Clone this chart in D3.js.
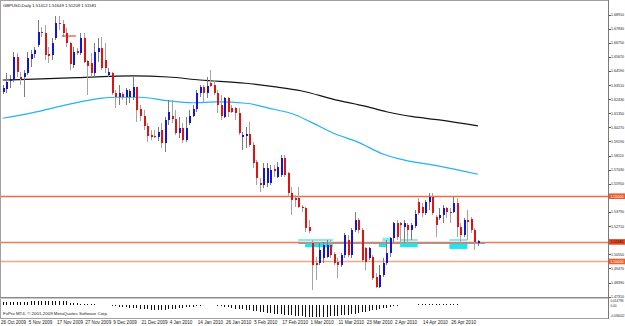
<!DOCTYPE html>
<html><head><meta charset="utf-8">
<script src="https://cdn.jsdelivr.net/npm/d3@7"></script>
<style>html,body{margin:0;padding:0;background:#fff;overflow:hidden}svg{display:block}</style>
</head><body><svg id="c" width="625" height="326"></svg>
<script>
// ---- data (GBPUSD Daily, one entry per bar) ----
const opens = [1.6301,1.6318,1.6385,1.6390,1.6569,1.6415,1.6415,1.6441,1.6551,1.6589,
1.6658,1.6760,1.6747,1.6586,1.6581,1.6709,1.6824,1.6816,1.6752,1.6671,
1.6505,1.6612,1.6594,1.6709,1.6535,1.6518,1.6441,1.6607,1.6632,1.6543,
1.6428,1.6441,1.6288,1.6257,1.6283,1.6257,1.6262,1.6257,1.6334,1.6165,
1.6114,1.6038,1.5969,1.5961,1.5956,1.6007,1.5905,1.6084,1.6114,1.6089,
1.5986,1.6020,1.5930,1.6058,1.6114,1.6165,1.6288,1.6339,1.6288,1.6369,
1.6352,1.6293,1.6198,1.6109,1.6249,1.6173,1.6173,1.6140,1.5951,1.5961,
1.5976,1.5892,1.5764,1.5598,1.5586,1.5598,1.5598,1.5706,1.5649,1.5662,
1.5790,1.5675,1.5527,1.5484,1.5484,1.5420,1.5407,1.5261,1.5139,1.4986,
1.4986,1.5024,1.5037,1.5126,1.5057,1.4998,1.4973,1.5050,1.5164,1.5050,
1.5241,1.5318,1.5241,1.5101,1.5024,1.5032,1.4884,1.4807,1.4896,1.4986,
1.5062,1.5177,1.5292,1.5292,1.5267,1.5279,1.5241,1.5272,1.5458,1.5420,
1.5369,1.5458,1.5496,1.5343,1.5330,1.5356,1.5407,1.5381,1.5381,1.5450,
1.5267,1.5203,1.5318,1.5323,1.5241,1.51412];
const highs = [1.6352,1.6441,1.6428,1.6607,1.6594,1.6454,1.6466,1.6607,1.6620,1.6645,
1.6849,1.6798,1.6811,1.6645,1.6709,1.6880,1.6880,1.6849,1.6786,1.6683,
1.6645,1.6632,1.6747,1.6747,1.6543,1.6594,1.6671,1.6709,1.6722,1.6671,
1.6479,1.6454,1.6313,1.6352,1.6301,1.6326,1.6318,1.6415,1.6339,1.6198,
1.6160,1.6058,1.6007,1.6007,1.6032,1.6058,1.6109,1.6237,1.6237,1.6160,
1.6109,1.6058,1.6109,1.6160,1.6198,1.6313,1.6352,1.6352,1.6415,1.6466,
1.6390,1.6313,1.6275,1.6262,1.6262,1.6198,1.6186,1.6173,1.5994,1.6032,
1.6071,1.5918,1.5777,1.5637,1.5752,1.5752,1.5739,1.5739,1.5764,1.5815,
1.5815,1.5688,1.5573,1.5509,1.5573,1.5432,1.5420,1.5318,1.5164,1.5037,
1.5139,1.5152,1.5164,1.5164,1.5075,1.5024,1.5062,1.5215,1.5203,1.5254,
1.5381,1.5330,1.5254,1.5113,1.5113,1.5050,1.4909,1.4973,1.5024,1.5164,
1.5190,1.5305,1.5318,1.5305,1.5318,1.5292,1.5292,1.5394,1.5484,1.5445,
1.5471,1.5522,1.5522,1.5356,1.5407,1.5432,1.5420,1.5407,1.5496,1.5484,
1.5292,1.5330,1.5394,1.5343,1.5254,1.51649];
const lows = [1.6283,1.6288,1.6326,1.6377,1.6415,1.6352,1.6262,1.6428,1.6492,1.6556,
1.6645,1.6722,1.6543,1.6518,1.6543,1.6696,1.6773,1.6722,1.6645,1.6466,
1.6479,1.6581,1.6581,1.6518,1.6275,1.6415,1.6415,1.6530,1.6466,1.6441,
1.6415,1.6275,1.6173,1.6198,1.6237,1.6198,1.6211,1.6237,1.6071,1.6078,
1.6007,1.5918,1.5930,1.5943,1.5925,1.5867,1.5841,1.6045,1.6058,1.5969,
1.5943,1.5905,1.5918,1.6045,1.6109,1.6147,1.6262,1.6224,1.6249,1.6339,
1.6275,1.6135,1.6084,1.6096,1.6109,1.6135,1.6084,1.5969,1.5854,1.5867,
1.5879,1.5713,1.5586,1.5535,1.5560,1.5573,1.5586,1.5649,1.5637,1.5649,
1.5649,1.5496,1.5356,1.5420,1.5407,1.5381,1.5228,1.5215,1.4781,1.4858,
1.4973,1.4986,1.5024,1.5024,1.4973,1.4871,1.4960,1.5024,1.5037,1.5024,
1.5228,1.5215,1.4998,1.4935,1.5011,1.4858,1.4794,1.4794,1.4884,1.4973,
1.5037,1.5152,1.5164,1.5139,1.5139,1.5139,1.5164,1.5254,1.5356,1.5343,
1.5356,1.5394,1.5356,1.5190,1.5318,1.5292,1.5330,1.5292,1.5369,1.5190,
1.5126,1.5190,1.5164,1.5215,1.5088,1.51209];
const closes = [1.6326,1.6377,1.6398,1.6569,1.6454,1.6400,1.6446,1.6556,1.6589,1.6620,
1.6760,1.6747,1.6581,1.6576,1.6671,1.6824,1.6816,1.6747,1.6671,1.6510,
1.6607,1.6594,1.6709,1.6530,1.6500,1.6441,1.6607,1.6632,1.6479,1.6479,
1.6449,1.6288,1.6257,1.6288,1.6262,1.6313,1.6308,1.6334,1.6160,1.6114,
1.6038,1.5961,1.5951,1.5951,1.5994,1.5905,1.6084,1.6147,1.6089,1.5986,
1.6020,1.5930,1.6025,1.6114,1.6165,1.6288,1.6339,1.6288,1.6344,1.6344,
1.6293,1.6198,1.6114,1.6249,1.6147,1.6147,1.6140,1.5981,1.5969,1.5976,
1.5892,1.5752,1.5637,1.5586,1.5713,1.5713,1.5701,1.5695,1.5726,1.5790,
1.5662,1.5522,1.5471,1.5471,1.5420,1.5407,1.5254,1.5236,1.4973,1.4973,
1.5088,1.5126,1.5126,1.5050,1.4986,1.4973,1.5050,1.5203,1.5050,1.5241,
1.5318,1.5241,1.5011,1.4998,1.5101,1.4871,1.4807,1.4896,1.4986,1.5067,
1.5177,1.5292,1.5190,1.5279,1.5292,1.5241,1.5279,1.5364,1.5369,1.5369,
1.5458,1.5496,1.5369,1.5279,1.5356,1.5407,1.5381,1.5374,1.5450,1.5267,
1.5203,1.5318,1.5305,1.5241,1.5147,1.51581];

// oscillator histogram (lower panel), one value per bar
const osc = [0.009,0.010,0.010,0.011,0.011,0.010,0.010,0.011,0.012,0.012,0.012,0.013,0.013,0.012,0.012,0.013,0.0148,0.014,0.013,
0.008,0.007,0.006,0.005,0.005,0.004,0.003,0.003,0.002,0.002,0.001,0.001,
-0.002,-0.003,-0.004,-0.005,-0.006,-0.007,-0.008,-0.009,-0.010,-0.011,-0.012,-0.013,-0.013,-0.014,-0.014,-0.013,-0.012,-0.011,-0.010,-0.009,-0.008,-0.006,-0.005,-0.004,-0.002,
-0.001,0.001,0.001,0.002,0.001,-0.001,-0.002,
-0.004,-0.006,-0.008,-0.010,-0.011,-0.012,-0.014,-0.015,-0.017,-0.018,-0.019,-0.021,-0.022,-0.023,-0.025,-0.026,-0.027,-0.028,-0.029,-0.030,-0.031,-0.032,-0.033,-0.034,-0.034,
-0.035,-0.035,-0.035,-0.034,-0.034,-0.033,-0.032,-0.031,-0.030,-0.029,-0.028,-0.026,-0.025,-0.023,-0.021,-0.019,-0.017,-0.015,-0.013,-0.011,-0.009,-0.007,-0.005,-0.003,-0.001,
0.001,0.001,0.002,0.002,0.002,0.003,0.003,0.003,0.004,0.004,0.004,0.004,0.004,0.003,0.003,0.003,0.003,0.002,0.002,0.002,0.002,0.001,0.001];

// moving averages: [bar index, price]
const maSlow = [[0,1.6390],[11,1.6398],[22,1.6409],[30.5,1.6418],[37,1.6421],[47,1.6413],[56,1.6390],[69,1.6365],[77,1.6339],[85,1.6306],[94,1.6242],[103.5,1.6186],[109,1.6147],[116.5,1.6109],[124,1.6084],[135,1.6038]];
const maFast = [[0,1.6097],[8.6,1.6140],[18,1.6199],[27.6,1.6250],[32.4,1.6258],[39,1.6258],[46.6,1.6232],[54,1.6216],[61,1.6222],[69,1.6212],[77,1.6166],[82.5,1.6130],[87.3,1.6071],[94,1.5982],[100.6,1.5918],[108,1.5823],[114.8,1.5772],[124,1.5731],[135,1.5668]];

// horizontal levels
const levels = [1.5500, 1.5150, 1.5000];
const levelLabels = ["1.55000", "1.51581", "1.50000"];
const grayLevel = {from: 84, to: 137, price: 1.5139};
const redSegment = {from: 16.8, to: 20.8, price: 1.6727};
// cyan zones: [barFrom, barTo, priceTop, priceBottom]
const zones = [[83.9,93.8,1.5172,1.5157],[85.9,93.8,1.5139,1.5109],[107.9,110,1.5182,1.5152],[106.9,108.9,1.5134,1.5111],
[112.9,117.9,1.5172,1.5157],[112.9,117.9,1.5139,1.5109],[126.9,132,1.5172,1.5157],[126.9,132,1.5134,1.5096]];

const priceTicks = [1.68910,1.67830,1.66750,1.65670,1.64590,1.63510,1.62430,1.61350,1.60270,1.59190,1.58110,1.57030,1.55950,1.54870,1.53790,1.52710,1.51630,1.50550,1.49470,1.48390,1.47310];
const dateLabels = ["26 Oct 2009","5 Nov 2009","17 Nov 2009","27 Nov 2009","9 Dec 2009","21 Dec 2009","4 Jan 2010","14 Jan 2010","26 Jan 2010","5 Feb 2010","17 Feb 2010","1 Mar 2010","11 Mar 2010","23 Mar 2010","2 Apr 2010","14 Apr 2010","26 Apr 2010"];
const dateBars = [0,8,16,24,32,40,48,56,64,72,80,88,96,104,112,120,128];
const oscLabels = [["0.014796",0.0148],["0.00",0],["-0.036002",-0.036]];
const title = "GBPUSD,Daily  1.51412 1.51649 1.51209 1.51581";
const copyright = "FxPro MT4, \u00A9 2001-2009 MetaQuotes Software Corp.";

// ---- drawing ----
const svg = d3.select("#c");
const FONT = "'Liberation Sans', Arial, sans-serif";
const axisX = 608.5;
const x = d3.scaleLinear().domain([0, 135]).range([2.7, 477.9]);
const y = d3.scaleLinear().domain([1.6891, 1.4731]).range([14.6, 296.6]);
const yo = d3.scaleLinear().domain([-0.036, 0.0148]).range([317.5, 300.5]);

svg.append("rect").attr("width",625).attr("height",326).attr("fill","#fff");
const main = svg.append("g");
main.append("defs").append("clipPath").attr("id","cm").append("rect").attr("x",1).attr("y",1).attr("width",axisX-1).attr("height",296);

const g = main.append("g").attr("clip-path","url(#cm)");

// levels
const levelColors = ["#f06a44","#f07a52","#f6a585"];
g.selectAll(".lvl").data(levels).join("line")
  .attr("x1",1).attr("x2",axisX).attr("y1",d=>Math.round(y(d))+0.5).attr("y2",d=>Math.round(y(d))+0.5)
  .attr("stroke",(d,i)=>levelColors[i]).attr("stroke-width",1.3);
g.append("line").attr("x1",x(grayLevel.from)).attr("x2",x(grayLevel.to))
  .attr("y1",y(grayLevel.price)).attr("y2",y(grayLevel.price)).attr("stroke","#9a9a9a").attr("stroke-width",1.2);

// cyan zones
g.selectAll(".zone").data(zones).join("rect")
  .attr("x",d=>x(d[0])).attr("width",d=>x(d[1])-x(d[0]))
  .attr("y",d=>y(d[2])).attr("height",d=>y(d[3])-y(d[2]))
  .attr("fill",(d,i)=> i%2===0 ? "#7eeef4" : "#22e4ee");

// moving averages
const line = d3.line().x(d=>x(d[0])).y(d=>y(d[1])).curve(d3.curveMonotoneX);
g.append("path").attr("d",line(maFast)).attr("fill","none").attr("stroke","#22b4f0").attr("stroke-width",1.2);
g.append("path").attr("d",line(maSlow)).attr("fill","none").attr("stroke","#141414").attr("stroke-width",1.2);

// candles
const bars = opens.map((o,i)=>({i,o,h:highs[i],l:lows[i],c:closes[i]}));
const cg = g.append("g").attr("shape-rendering","crispEdges");
cg.selectAll(".wick").data(bars).join("line")
  .attr("x1",d=>Math.round(x(d.i))+0.5).attr("x2",d=>Math.round(x(d.i))+0.5)
  .attr("y1",d=>y(d.h)).attr("y2",d=>y(d.l))
  .attr("stroke",d=> d.c>=d.o ? "#7c7c7c" : "#a4a4a4").attr("stroke-width",1);
cg.selectAll(".body").data(bars).join("rect")
  .attr("x",d=>Math.round(x(d.i))-0.5).attr("width",2)
  .attr("y",d=>y(Math.max(d.o,d.c))).attr("height",d=>Math.max(1,Math.abs(y(d.o)-y(d.c))))
  .attr("fill",d=> d.c>=d.o ? "#1414d2" : "#e01212");

// red drawn segment
g.append("line").attr("x1",x(redSegment.from)).attr("x2",x(redSegment.to))
  .attr("y1",y(redSegment.price)).attr("y2",y(redSegment.price)).attr("stroke","#ee2020").attr("stroke-width",1);

// title
svg.append("text").attr("x",3).attr("y",6.5).attr("font-family",FONT).attr("font-size",4.2).attr("fill","#111").text(title);

// oscillator panel
svg.append("g").attr("shape-rendering","crispEdges").selectAll("line").data(osc).join("line")
  .attr("x1",(d,i)=>Math.round(x(i))+0.5).attr("x2",(d,i)=>Math.round(x(i))+0.5)
  .attr("y1",yo(0)).attr("y2",d=>yo(d)).attr("stroke","#111").attr("stroke-width",1);
svg.append("text").attr("x",3).attr("y",314.5).attr("font-family",FONT).attr("font-size",4.4).attr("fill","#222").text(copyright);

// frames
const fr = svg.append("g").attr("shape-rendering","crispEdges").attr("fill","none");
fr.append("rect").attr("x",0.5).attr("y",0.5).attr("width",axisX-0.5).attr("height",318).attr("stroke","#a0a0a0");
fr.append("line").attr("x1",0).attr("x2",axisX).attr("y1",297.5).attr("y2",297.5).attr("stroke","#8a8a8a");
fr.append("line").attr("x1",0).attr("x2",axisX).attr("y1",298.5).attr("y2",298.5).attr("stroke","#c8c8c8");
fr.append("line").attr("x1",axisX).attr("x2",axisX).attr("y1",0).attr("y2",318.5).attr("stroke","#7a7a7a");

// right price axis (labels hidden behind level boxes are skipped)
const visibleTicks = priceTicks.filter(t => levels.every(l => Math.abs(y(t)-y(l)) > 4.5));
const ax = svg.append("g");
ax.selectAll("line").data(priceTicks).join("line").attr("shape-rendering","crispEdges")
  .attr("x1",axisX).attr("x2",axisX+2).attr("y1",d=>Math.round(y(d))+0.5).attr("y2",d=>Math.round(y(d))+0.5).attr("stroke","#555");
ax.selectAll("text").data(visibleTicks).join("text")
  .attr("x",axisX+2.5).attr("y",d=>y(d)+1.4).attr("font-family",FONT).attr("font-size",3.6).attr("fill","#222")
  .text(d=>d.toFixed(5));

// level boxes
const boxFill = ["#f05a2c","#e8481e","#f0602e"];
const boxText = ["#fff","#111","#fff"];
const lb = svg.append("g");
lb.selectAll("rect").data(levels).join("rect")
  .attr("x",axisX+0.5).attr("width",625-axisX).attr("y",d=>y(d)-2.8).attr("height",5.6).attr("fill",(d,i)=>boxFill[i]);
lb.selectAll("text").data(levels).join("text")
  .attr("x",axisX+2).attr("y",d=>y(d)+1.4).attr("font-family",FONT).attr("font-size",3.6)
  .attr("fill",(d,i)=>boxText[i]).text((d,i)=>levelLabels[i]);

// oscillator labels
svg.selectAll(".ol").data(oscLabels).join("text")
  .attr("x",axisX+2).attr("y",(d,i)=> i===0 ? 302.3 : (i===1 ? 306.8 : 317.4))
  .attr("font-family",FONT).attr("font-size",3.1).attr("fill","#222")
  .text(d=>d[0]);

// date labels
svg.selectAll(".dl").data(dateLabels).join("text")
  .attr("x",(d,i)=>Math.max(1,x(dateBars[i])-2)).attr("y",324).attr("font-family",FONT).attr("font-size",4.6).attr("fill","#222")
  .text(d=>d);
</script>
</body></html>
